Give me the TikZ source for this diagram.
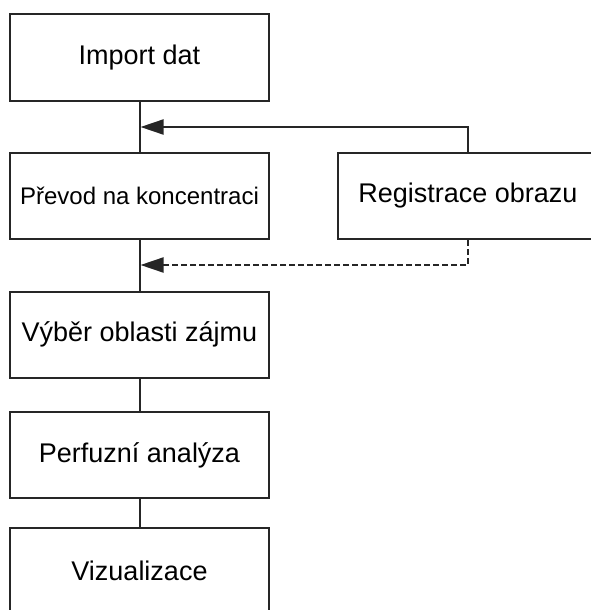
\documentclass[tikz,border=0pt]{standalone}
\usepackage{fontspec}
\setmainfont{Liberation Sans}
\usetikzlibrary{arrows.meta}
\begin{document}
\begin{tikzpicture}[x=1pt,y=-1pt,
  stepbox/.style={draw=black!85, line width=2pt, minimum width=259pt, minimum height=86pt,
    inner sep=0pt, font=\fontsize{27}{32}\selectfont},
  link/.style={draw=black!85, line width=2pt},
  feed/.style={link, -{Triangle[length=23pt,width=15pt]}}]
  \useasboundingbox (0,0) rectangle (590,610);
  % main processing chain
  \node[stepbox] (imp) at (139.5,57.5) {Import dat};
  \node[stepbox, font=\fontsize{24}{28}\selectfont] (prev) at (139.5,196) {Převod na koncentraci};
  \node[stepbox] (roi) at (139.5,334.5) {Výběr oblasti zájmu};
  \node[stepbox] (perf) at (139.5,455) {Perfuzní analýza};
  \node[stepbox] (viz) at (139.5,571) {Vizualizace};
  % side branch
  \node[stepbox, minimum width=260pt] (reg) at (468,196) {Registrace obrazu};
  % junction points on the main line
  \coordinate (j1) at (140.5,127);
  \coordinate (j2) at (140.5,265);
  \draw[link] (imp.south) -- (prev.north);
  \draw[link] (prev.south) -- (roi.north);
  \draw[link] (roi.south) -- (perf.north);
  \draw[link] (perf.south) -- (viz.north);
  \draw[feed] (reg.north) |- (j1);
  \draw[feed, dash pattern=on 6pt off 3pt] (reg.south) |- (j2);
\end{tikzpicture}
\end{document}
